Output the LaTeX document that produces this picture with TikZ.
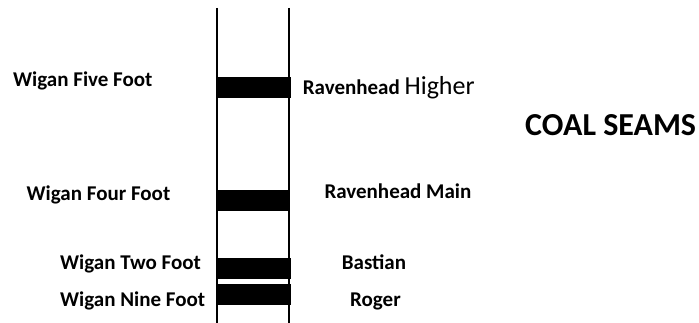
\documentclass[tikz,border=0pt]{standalone}
\usepackage{fontspec}
\setmainfont{Carlito}
\begin{document}
\begin{tikzpicture}[x=1pt,y=-1pt,
  shaft/.style={line width=2pt},
  seam/.style={fill=black,draw=none},
  lbl/.style={anchor=base west,inner sep=0pt,font=\bfseries\fontsize{21}{25}\selectfont}]
\useasboundingbox (0,0) rectangle (699,323);
% shaft walls
\coordinate (lt) at (216.5,8);
\coordinate (lb) at (216.5,323);
\coordinate (rt) at (288.5,8);
\coordinate (rb) at (288.5,323);
\draw[shaft] (lt) -- (lb);
\draw[shaft] (rt) -- (rb);
% coal seams
\fill[seam] (217,77) rectangle (291,98);
\fill[seam] (216,190) rectangle (288,211);
\fill[seam] (217,258) rectangle (291,279);
\fill[seam] (217,284) rectangle (291,305);
% left-hand names
\node[lbl] (w5) at (13,86.7) {Wigan Five Foot};
\node[lbl] (w4) at (26.5,201) {Wigan Four Foot};
\node[lbl] (w2) at (60,269.3) {Wigan Two Foot};
\node[lbl] (w9) at (60,306.7) {Wigan Nine Foot};
% right-hand names
\node[lbl] (rh) at (302.7,94.3) {Ravenhead \mdseries\fontsize{26}{30}\selectfont Higher};
\node[lbl] (rm) at (324.3,198.3) {Ravenhead Main};
\node[lbl] (ba) at (341.7,269.3) {Bastian};
\node[lbl] (ro) at (350,306.7) {Roger};
% title
\node[lbl,font=\bfseries\fontsize{32}{37}\selectfont] (title) at (525,136) {COAL SEAMS};
\end{tikzpicture}
\end{document}
